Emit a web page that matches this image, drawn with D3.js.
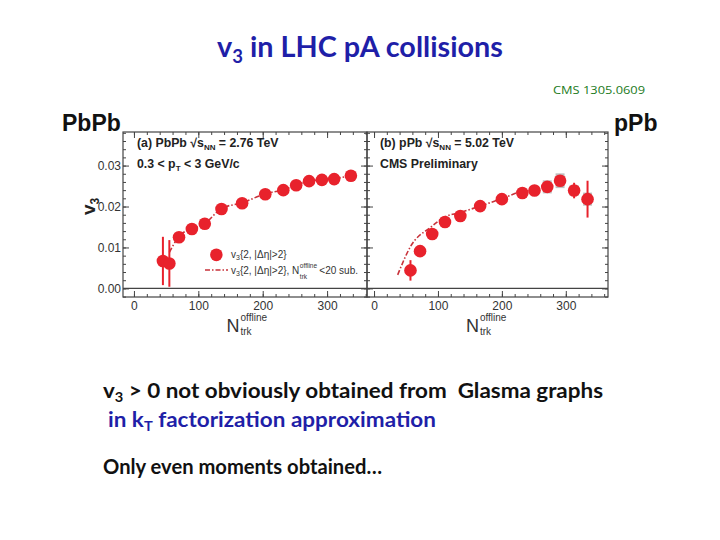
<!DOCTYPE html>
<html>
<head>
<meta charset="utf-8">
<script src="https://cdn.jsdelivr.net/npm/d3@7"></script>
<style>
  body { margin: 0; background: #fff; }
  svg { display: block; }
  .tick text { font-family: "Liberation Sans", Arial, sans-serif; font-size: 12px; fill: #333; }
  .domain { display: none; }
  .tick line { stroke: #444; }
</style>
</head>
<body>
<svg id="chart" width="720" height="540"></svg>
<script>
// PbPb 2.76 TeV, v3{2,|deta|>2}
const pbN = [45, 55, 70, 90, 110, 136, 168, 204, 232, 252, 272, 292, 311, 337];
const pbV = [0.0067, 0.0061, 0.0125, 0.0145, 0.0158, 0.0194, 0.0208, 0.0230, 0.0240, 0.0252, 0.0262, 0.0265, 0.0267, 0.0275];
const pbErr = [0.0059, 0.0057, 0.0007, 0.0006, 0.0006, 0.0005, 0.0005, 0.0005, 0.0005, 0.0005, 0.0005, 0.0005, 0.0005, 0.0005];
// PbPb, N<20 subtracted (dash-dot)
const pbSubN = [55, 70, 90, 110, 136, 168, 204, 232, 252, 272, 292, 311, 337];
const pbSubV = [0.0088, 0.0127, 0.0146, 0.0159, 0.0195, 0.0209, 0.0231, 0.0241, 0.0253, 0.0262, 0.0266, 0.0268, 0.0276];

// pPb 5.02 TeV
const ppN = [57, 72, 91, 111, 135, 166, 200, 232, 251, 271, 291, 313, 334];
const ppV = [0.0044, 0.0091, 0.0133, 0.0162, 0.0177, 0.0201, 0.0218, 0.0233, 0.0239, 0.0248, 0.0263, 0.0239, 0.0218];
const ppErr = [0.0025, 0.0006, 0.0005, 0.0005, 0.0005, 0.0005, 0.0005, 0.0005, 0.0005, 0.0006, 0.0006, 0.0019, 0.0045];
const ppSys = [0, 0, 0, 0, 0, 0, 0, 0.0011, 0.0011, 0.0016, 0.0018, 0.0013, 0.0016];
const ppSubN = [37, 57, 90, 110, 134, 166, 201, 227];
const ppSubV = [0.0033, 0.0102, 0.0151, 0.0174, 0.0185, 0.0201, 0.0220, 0.0236];

const xMajor = [0, 100, 200, 300];
const yMajor = [0, 0.01, 0.02, 0.03];
const yLabels = ['0.00', '0.01', '0.02', '0.03'];

const svg = d3.select('#chart');
svg.append('rect').attr('width', 720).attr('height', 540).attr('fill', '#fff');

const yTop = 132, yBot = 297;
const y = d3.scaleLinear().domain([-0.0021, 0.0382]).range([yBot, yTop]);
const xL = d3.scaleLinear().domain([-17, 362]).range([123, 367]);
const xR = d3.scaleLinear().domain([-11, 366]).range([367, 608]);

const red = '#e8222c';
const lineRed = '#c8323a';
const sans = '"Liberation Sans", Arial, sans-serif';

function minorTicks(domain, step) {
  const out = [];
  const start = Math.ceil(domain[0] / step);
  const end = Math.floor(domain[1] / step);
  for (let i = start; i <= end; i++) out.push(+(i * step).toFixed(6));
  return out;
}

function panel(x, N, V, err, sys, subN, subV, leftLabels) {
  const g = svg.append('g');
  const [x0, x1] = x.range();
  const xMinor = minorTicks(x.domain(), 20);
  const yMinor = minorTicks(y.domain(), 0.002);

  // bottom + top ticks
  g.append('g').attr('transform', `translate(0,${yBot})`)
    .call(d3.axisBottom(x).tickValues(xMinor).tickSize(-3).tickFormat(''));
  g.append('g').attr('transform', `translate(0,${yBot})`)
    .call(d3.axisBottom(x).tickValues(xMajor).tickSizeInner(-6).tickSizeOuter(0).tickPadding(4));
  g.append('g').attr('transform', `translate(0,${yTop})`)
    .call(d3.axisTop(x).tickValues(xMinor).tickSize(-3).tickFormat(''));
  g.append('g').attr('transform', `translate(0,${yTop})`)
    .call(d3.axisTop(x).tickValues(xMajor).tickSize(-6).tickFormat(''));
  // left + right ticks
  g.append('g').attr('transform', `translate(${x0},0)`)
    .call(d3.axisLeft(y).tickValues(yMinor).tickSize(-3).tickFormat(''));
  g.append('g').attr('transform', `translate(${x0},0)`)
    .call(d3.axisLeft(y).tickValues(yMajor).tickSizeInner(-6).tickSizeOuter(0).tickPadding(2)
      .tickFormat((d, i) => leftLabels ? yLabels[i] : ''));
  g.append('g').attr('transform', `translate(${x1},0)`)
    .call(d3.axisRight(y).tickValues(yMinor).tickSize(-3).tickFormat(''));
  g.append('g').attr('transform', `translate(${x1},0)`)
    .call(d3.axisRight(y).tickValues(yMajor).tickSize(-6).tickFormat(''));

  // frame and zero line
  g.append('rect').attr('x', x0).attr('y', yTop).attr('width', x1 - x0).attr('height', yBot - yTop)
    .attr('fill', 'none').attr('stroke', '#444').attr('stroke-width', 1.2);
  g.append('line').attr('x1', x0).attr('x2', x1).attr('y1', y(0)).attr('y2', y(0))
    .attr('stroke', '#444').attr('stroke-width', 1.2);

  // systematic boxes
  g.selectAll('rect.sys').data(N.map((n, i) => i).filter(i => sys[i] > 0)).enter()
    .append('rect').attr('class', 'sys')
    .attr('x', i => x(N[i] - 7)).attr('width', i => x(N[i] + 7) - x(N[i] - 7))
    .attr('y', i => y(V[i] + sys[i])).attr('height', i => y(V[i] - sys[i]) - y(V[i] + sys[i]))
    .attr('fill', '#b4b4b4').attr('opacity', 0.85);

  // dash-dot line
  const line = d3.line().x(d => x(d[0])).y(d => y(d[1])).curve(d3.curveMonotoneX);
  g.append('path').datum(subN.map((n, i) => [n, subV[i]]))
    .attr('d', line).attr('fill', 'none').attr('stroke', lineRed)
    .attr('stroke-width', 1.6).attr('stroke-dasharray', '5,2,1.5,2');

  // error bars
  g.selectAll('line.err').data(N.map((n, i) => i)).enter()
    .append('line').attr('class', 'err')
    .attr('x1', i => x(N[i])).attr('x2', i => x(N[i]))
    .attr('y1', i => y(V[i] + err[i])).attr('y2', i => y(V[i] - err[i]))
    .attr('stroke', red).attr('stroke-width', 2);

  g.selectAll('circle').data(N.map((n, i) => i)).enter()
    .append('circle')
    .attr('cx', i => x(N[i])).attr('cy', i => y(V[i])).attr('r', 6.3)
    .attr('fill', red);

  // x axis title: N^offline_trk
  const nx = x(150) - 4;
  g.append('text').attr('x', nx).attr('y', 332).attr('font-family', sans)
    .attr('font-size', 18).attr('fill', '#333').text('N');
  g.append('text').attr('x', nx + 14).attr('y', 321).attr('font-family', sans)
    .attr('font-size', 10).attr('fill', '#333').text('offline');
  g.append('text').attr('x', nx + 14).attr('y', 335).attr('font-family', sans)
    .attr('font-size', 10).attr('fill', '#333').text('trk');
  return g;
}

panel(xL, pbN, pbV, pbErr, pbN.map(() => 0), pbSubN, pbSubV, true);
panel(xR, ppN, ppV, ppErr, ppSys, ppSubN, ppSubV, false);

// y axis title
const yt = svg.append('text').attr('transform', 'translate(95,215) rotate(-90)')
  .attr('font-family', sans).attr('font-weight', 'bold').attr('fill', '#222');
yt.append('tspan').attr('font-size', 19).text('v');
yt.append('tspan').attr('font-size', 12).attr('dy', 4).text('3');

function label(xp, yp, parts, size) {
  const t = svg.append('text').attr('x', xp).attr('y', yp)
    .attr('font-family', sans).attr('font-weight', 'bold').attr('font-size', size).attr('fill', '#222');
  parts.forEach(p => {
    const s = t.append('tspan').text(p.t);
    if (p.dy) s.attr('dy', p.dy);
    if (p.s) s.attr('font-size', p.s);
  });
  return t;
}

// panel annotations
label(137, 147, [{ t: '(a) PbPb ' }, { t: '\u221A' }, { t: 's', }, { t: 'NN', s: 8, dy: 3 }, { t: ' = 2.76 TeV', dy: -3 }], 12.3);
label(137, 168, [{ t: '0.3 < p' }, { t: 'T', s: 8, dy: 3 }, { t: ' < 3 GeV/c', dy: -3 }], 12.3);
label(380, 147, [{ t: '(b) pPb ' }, { t: '\u221A' }, { t: 's' }, { t: 'NN', s: 8, dy: 3 }, { t: ' = 5.02 TeV', dy: -3 }], 12.3);
label(380, 168, [{ t: 'CMS Preliminary' }], 12.3);

// legend
svg.append('circle').attr('cx', xL(128)).attr('cy', y(0.0082)).attr('r', 6.3).attr('fill', red);
svg.append('line').attr('x1', 205).attr('x2', 228).attr('y1', 270).attr('y2', 270)
  .attr('stroke', lineRed).attr('stroke-width', 1.6).attr('stroke-dasharray', '5,2,1.5,2');
function legText(xp, yp, extra) {
  const t = svg.append('text').attr('x', xp).attr('y', yp).attr('font-family', sans)
    .attr('font-size', 10).attr('fill', '#333');
  t.append('tspan').text('v');
  t.append('tspan').attr('font-size', 7).attr('dy', 2).text('3');
  t.append('tspan').attr('dy', -2).text(extra ? '{2, |\u0394\u03B7|>2}, N' : '{2, |\u0394\u03B7|>2}');
  return t;
}
legText(231, 258, false);
const lt = legText(231, 274, true);
const ltEnd = 231 + lt.node().getComputedTextLength();
svg.append('text').attr('x', ltEnd + 0.5).attr('y', 268).attr('font-family', sans)
  .attr('font-size', 6.5).attr('fill', '#333').text('offline');
svg.append('text').attr('x', ltEnd + 0.5).attr('y', 279).attr('font-family', sans)
  .attr('font-size', 6.5).attr('fill', '#333').text('trk');
svg.append('text').attr('x', ltEnd + 20).attr('y', 274).attr('font-family', sans)
  .attr('font-size', 10).attr('fill', '#333').text('<20 sub.');

// system labels
svg.append('text').attr('x', 62).attr('y', 131).attr('font-family', sans).attr('font-weight', 'bold')
  .attr('font-size', 23).attr('fill', '#111').text('PbPb');
svg.append('text').attr('x', 614).attr('y', 131).attr('font-family', sans).attr('font-weight', 'bold')
  .attr('font-size', 23).attr('fill', '#111').text('pPb');

svg.append('text').attr('x', 553).attr('y', 94).attr('font-family', '"Open Sans", sans-serif')
  .attr('font-size', 11.5).attr('textLength', 92).attr('lengthAdjust', 'spacingAndGlyphs')
  .attr('fill', '#1b7a1b').text('CMS 1305.0609');

// slide texts
const body = 'Lato, "Open Sans", sans-serif';
const title = svg.append('text').attr('x', 217).attr('y', 57).attr('font-family', body)
  .attr('font-weight', 'bold').attr('font-size', 28).attr('fill', '#1f1fa8')
  .attr('textLength', 286).attr('lengthAdjust', 'spacingAndGlyphs');
title.append('tspan').text('v');
title.append('tspan').attr('font-size', 18).attr('dy', 6).text('3');
title.append('tspan').attr('dy', -6).text(' in LHC pA collisions');

const l1 = svg.append('text').attr('x', 103).attr('y', 398).attr('font-family', body)
  .attr('font-weight', 'bold').attr('font-size', 21.5).attr('fill', '#111')
  .attr('textLength', 500).attr('lengthAdjust', 'spacingAndGlyphs');
l1.append('tspan').text('v');
l1.append('tspan').attr('font-size', 14).attr('dy', 4).text('3');
l1.append('tspan').attr('dy', -4).text(' > 0 not obviously obtained from \u00A0Glasma graphs');

const l2 = svg.append('text').attr('x', 108).attr('y', 427).attr('font-family', body)
  .attr('font-weight', 'bold').attr('font-size', 21.5).attr('fill', '#1f1fa8')
  .attr('textLength', 328).attr('lengthAdjust', 'spacingAndGlyphs');
l2.append('tspan').text('in k');
l2.append('tspan').attr('font-size', 14).attr('dy', 4).text('T');
l2.append('tspan').attr('dy', -4).text(' factorization approximation');

svg.append('text').attr('x', 103).attr('y', 474).attr('font-family', body)
  .attr('font-weight', 'bold').attr('font-size', 21.5).attr('fill', '#111')
  .attr('textLength', 279).attr('lengthAdjust', 'spacingAndGlyphs')
  .text('Only even moments obtained\u2026');
</script>
</body>
</html>
